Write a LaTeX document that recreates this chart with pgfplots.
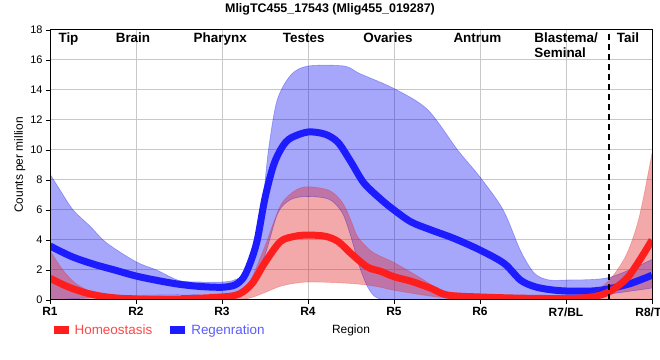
\documentclass[border=0pt]{standalone}
\usepackage{fontspec}
\setmainfont{Liberation Sans}
\usepackage{pgfplots}
\pgfplotsset{compat=1.18}
\usepgfplotslibrary{fillbetween}
\definecolor{bline}{RGB}{28,28,255}
\definecolor{bband}{RGB}{0,0,240}
\definecolor{rline}{RGB}{255,30,30}
\definecolor{rband}{RGB}{225,40,40}
\definecolor{gridc}{RGB}{200,200,200}
\definecolor{rtext}{RGB}{255,70,70}
\definecolor{btext}{RGB}{90,90,255}
\begin{document}
\begin{tikzpicture}
\begin{axis}[
  at={(50bp,60bp)}, anchor=south west,
  width=602bp, height=270bp, scale only axis,
  xmin=0, xmax=7, ymin=0, ymax=18,
  xtick={0,1,2,3,4,5,6,7},
  xticklabels={R1,R2,R3,R4,R5,R6,R7/BL,R8/TL},
  ytick={0,2,4,6,8,10,12,14,16,18},
  xtick pos=left, ytick pos=left,
  tick align=outside, major tick length=4bp,
  tick style={black, line width=0.8bp},
  grid=major, major grid style={gridc, line width=1bp},
  axis line style={black, line width=1bp},
  /pgf/number format/assume math mode=true,
  xticklabel style={font=\bfseries\fontsize{12}{14}\selectfont},
  yticklabel style={font=\fontsize{11}{13}\selectfont},
  xlabel={Region},
  xlabel style={at={(axis description cs:0.5,-0.111)}, anchor=center, font=\fontsize{12}{14}\selectfont},
  ylabel={Counts per million},
  ylabel style={at={(axis description cs:-0.05,0.5)}, anchor=center, font=\fontsize{12}{14}\selectfont},
  legend style={at={(axis description cs:-0.006,-0.111)}, anchor=west, draw=none, fill=none,
    legend columns=2, font=\fontsize{13.5}{15}\selectfont,
    /tikz/every even column/.append style={column sep=12bp},
    legend cell align=left},
  legend image code/.code={\draw (0bp,0bp) -- (15bp,0bp);},
]
% Regeneration band
\addplot[name path=bu, draw=bband, draw opacity=0.3, line width=0.6bp, smooth, forget plot] coordinates {
(0,8.4) (0.12,7.3) (0.27,6.0) (0.47,4.9) (0.66,3.8) (1,2.55) (1.24,2.0) (1.5,1.3) (1.75,1.2) (2,1.2)
(2.15,1.35) (2.29,2.0) (2.45,5.5) (2.54,10) (2.64,13.3) (2.8,15.0) (3,15.6) (3.42,15.6) (3.6,15.1)
(4,14.1) (4.39,12.7) (4.74,10) (5,8.2) (5.27,6) (5.47,3.3) (5.63,1.8) (5.79,1.35) (6,1.33) (6.5,1.5) (7,2.7)};
\addplot[name path=bl, draw=bband, draw opacity=0.3, line width=0.6bp, smooth, forget plot] coordinates {
(0,0) (0.5,0.15) (1,0.3) (1.5,0.35) (2,0.4) (2.2,0.5) (2.35,1.0) (2.5,3.0) (2.65,5.8) (2.8,6.7) (3,6.9)
(3.25,6.7) (3.4,5.8) (3.5,4.2) (3.6,2.2) (3.7,0.8) (3.8,0.15) (4,0) (5,0) (5.5,0) (6,0.15) (6.5,0.4) (7,0.8)};
\addplot[bband, fill opacity=0.35, draw=none, forget plot] fill between[of=bu and bl];
% Regeneration mean
\addplot[bline, line width=7bp, smooth, forget plot] coordinates {
(0,3.6) (0.25,2.9) (0.5,2.4) (0.75,2.0) (1,1.6) (1.25,1.3) (1.5,1.05) (1.75,0.9) (2,0.85) (2.15,1.0)
(2.25,1.5) (2.33,2.5) (2.41,4.0) (2.5,6.8) (2.6,9.0) (2.7,10.2) (2.8,10.8) (3,11.2) (3.2,11.05)
(3.35,10.5) (3.5,9.2) (3.65,7.8) (3.85,6.7) (4,6.0) (4.2,5.2) (4.43,4.67) (4.7,4.1) (5,3.33) (5.28,2.44)
(5.47,1.33) (5.63,0.9) (5.8,0.7) (6,0.6) (6.3,0.6) (6.5,0.75) (6.75,1.1) (7,1.65)};
% Homeostasis band
\addplot[name path=ru, draw=rband, draw opacity=0.3, line width=0.6bp, smooth, forget plot] coordinates {
(0,3.3) (0.15,2.0) (0.3,1.1) (0.5,0.5) (0.7,0.3) (1,0.2) (2,0.3) (2.2,0.6) (2.33,1.3) (2.5,3.6)
(2.68,6.3) (2.85,7.3) (3,7.55) (3.25,7.3) (3.4,6.5) (3.5,5.3) (3.58,4.2) (3.75,3.2) (4,2.5) (4.3,1.5)
(4.54,0.67) (4.8,0.25) (5,0.15) (6,0.15) (6.3,0.5) (6.5,1.3) (6.7,3.0) (6.85,5.5) (7,9.8)};
\addplot[name path=rl, draw=rband, draw opacity=0.3, line width=0.6bp, smooth, forget plot] coordinates {
(0,0) (1,0) (2,0) (2.3,0.1) (2.5,0.5) (2.7,0.95) (3,1.2) (3.5,1.1) (3.8,0.9) (4,0.65) (4.5,0.2) (5,0) (6,0) (7,0.1)};
\addplot[rband, fill opacity=0.4, draw=none, forget plot] fill between[of=ru and rl];
% Homeostasis mean
\addplot[rline, line width=7bp, smooth, forget plot] coordinates {
(0,1.45) (0.2,0.9) (0.4,0.5) (0.6,0.25) (0.8,0.12) (1,0.08) (1.5,0.08) (2,0.2) (2.2,0.4) (2.35,1.1)
(2.5,2.5) (2.68,3.9) (2.85,4.25) (3,4.33) (3.2,4.25) (3.35,3.9) (3.5,3.1) (3.69,2.2) (3.85,1.9) (4,1.55)
(4.2,1.25) (4.43,0.78) (4.62,0.33) (5,0.2) (5.5,0.12) (6,0.1) (6.3,0.2) (6.5,0.55) (6.7,1.4) (6.85,2.6) (7,4.0)};
% dashed separator
\draw[black, line width=2.5bp, dash pattern=on 6bp off 4bp] (axis cs:6.5,0) -- (axis cs:6.5,18);
% region labels
\begin{scope}[every node/.style={font=\bfseries\fontsize{13.5}{15}\selectfont, inner sep=0pt}]
\node[anchor=north] at (axis cs:0.215,17.8) {Tip};
\node[anchor=north] at (axis cs:0.965,17.8) {Brain};
\node[anchor=north] at (axis cs:1.98,17.8) {Pharynx};
\node[anchor=north] at (axis cs:2.95,17.8) {Testes};
\node[anchor=north] at (axis cs:3.93,17.8) {Ovaries};
\node[anchor=north] at (axis cs:4.97,17.8) {Antrum};
\node[anchor=north west, align=left] at (axis cs:5.63,17.8) {Blastema/\\Seminal};
\node[anchor=north] at (axis cs:6.72,17.8) {Tail};
\end{scope}
% thick left and bottom axis lines
\draw[black, line width=2.8bp] (rel axis cs:0,0) -- (rel axis cs:0,1);
\draw[black, line width=2.8bp] (rel axis cs:0,0) -- (rel axis cs:1,0);
% legend
\addlegendimage{rline, line width=8bp}
\addlegendentry{\textcolor{rtext}{Homeostasis}}
\addlegendimage{bline, line width=8bp}
\addlegendentry{\textcolor{btext}{Regenration}}
\end{axis}
\node[font=\bfseries\fontsize{12.5}{14}\selectfont, anchor=center] at (330bp,351bp) {MligTC455\_17543 (Mlig455\_019287)};
\pgfresetboundingbox
\useasboundingbox (0bp,0bp) rectangle (660bp,360bp);
\end{tikzpicture}
\end{document}
